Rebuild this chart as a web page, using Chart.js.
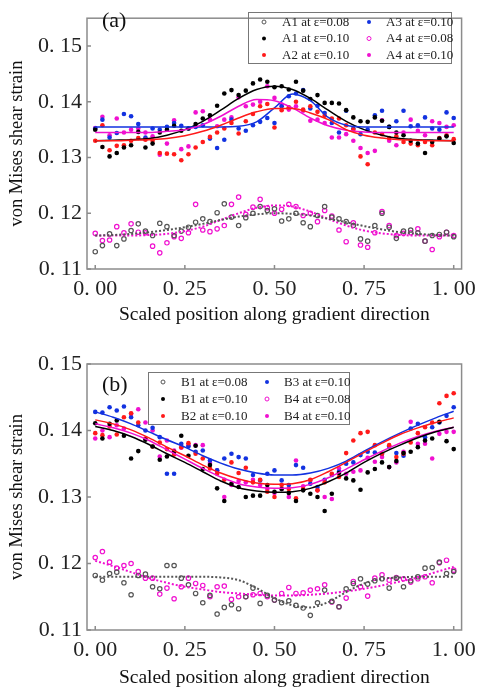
<!DOCTYPE html>
<html>
<head>
<meta charset="utf-8">
<script src="https://cdn.jsdelivr.net/npm/chart.js@4.4.1/dist/chart.umd.min.js"></script>
<style>
  html, body { margin: 0; padding: 0; background: #fff; }
  #wrapA { position: absolute; left: 0; top: 0; width: 483px; height: 345px; }
  #wrapB { position: absolute; left: 0; top: 345px; width: 483px; height: 348px; }
</style>
</head>
<body>
<div id="wrapA"><canvas id="chartA" width="483" height="345"></canvas></div>
<div id="wrapB"><canvas id="chartB" width="483" height="348"></canvas></div>
<script>
// positions along the gradient (scaled)
var xPos = [0.00, 0.02, 0.04, 0.06, 0.08, 0.10, 0.12, 0.14, 0.16, 0.18,
            0.20, 0.22, 0.24, 0.26, 0.28, 0.30, 0.32, 0.34, 0.36, 0.38,
            0.40, 0.42, 0.44, 0.46, 0.48, 0.50, 0.52, 0.54, 0.56, 0.58,
            0.60, 0.62, 0.64, 0.66, 0.68, 0.70, 0.72, 0.74, 0.76, 0.78,
            0.80, 0.82, 0.84, 0.86, 0.88, 0.90, 0.92, 0.94, 0.96, 0.98, 1.00];
var xFit = [0.00, 0.05, 0.10, 0.15, 0.20, 0.25, 0.30, 0.35, 0.40, 0.45, 0.50,
            0.55, 0.60, 0.65, 0.70, 0.75, 0.80, 0.85, 0.90, 0.95, 1.00];
var xTicks = [0, 0.25, 0.5, 0.75, 1];
var yTicks = [0.11, 0.12, 0.13, 0.14, 0.15];

// ---- panel (a) ----
var a1_008 = [0.1131, 0.1142, 0.1163, 0.1142, 0.1154, 0.1169, 0.1181, 0.1168, 0.1160, 0.1182,
              0.1176, 0.1160, 0.1168, 0.1175, 0.1184, 0.1190, 0.1185, 0.1201, 0.1217, 0.1193,
              0.1178, 0.1192, 0.1200, 0.1212, 0.1205, 0.1208, 0.1186, 0.1190, 0.1200, 0.1183,
              0.1176, 0.1196, 0.1212, 0.1193, 0.1190, 0.1185, 0.1178, 0.1154, 0.1150, 0.1178,
              0.1200, 0.1175, 0.1155, 0.1168, 0.1170, 0.1165, 0.1150, 0.1160, 0.1162, 0.1166, 0.1158];
var a1_010 = [0.1350, 0.1319, 0.1302, 0.1308, 0.1318, 0.1322, 0.1346, 0.1318, 0.1325, 0.1345,
              0.1350, 0.1357, 0.1348, 0.1352, 0.1360, 0.1370, 0.1376, 0.1393, 0.1415, 0.1421,
              0.1412, 0.1420, 0.1433, 0.1440, 0.1436, 0.1426, 0.1428, 0.1422, 0.1436, 0.1420,
              0.1405, 0.1412, 0.1398, 0.1398, 0.1397, 0.1385, 0.1372, 0.1365, 0.1364, 0.1372,
              0.1366, 0.1355, 0.1345, 0.1340, 0.1330, 0.1325, 0.1308, 0.1328, 0.1334, 0.1338, 0.1326];
var a2_010 = [0.1330, 0.1358, 0.1313, 0.1321, 0.1322, 0.1330, 0.1335, 0.1332, 0.1330, 0.1308,
              0.1307, 0.1306, 0.1295, 0.1306, 0.1318, 0.1328, 0.1337, 0.1345, 0.1352, 0.1362,
              0.1343, 0.1365, 0.1378, 0.1392, 0.1396, 0.1354, 0.1385, 0.1390, 0.1400, 0.1386,
              0.1392, 0.1382, 0.1375, 0.1370, 0.1370, 0.1358, 0.1350, 0.1302, 0.1288, 0.1345,
              0.1342, 0.1335, 0.1338, 0.1328, 0.1325, 0.1322, 0.1328, 0.1322, 0.1335, 0.1340, 0.1333];
var a3_010 = [0.1352, 0.1368, 0.1336, 0.1344, 0.1378, 0.1374, 0.1360, 0.1336, 0.1352, 0.1350,
              0.1355, 0.1362, 0.1357, 0.1352, 0.1355, 0.1358, 0.1334, 0.1317, 0.1332, 0.1368,
              0.1352, 0.1348, 0.1358, 0.1364, 0.1371, 0.1362, 0.1392, 0.1410, 0.1415, 0.1421,
              0.1388, 0.1393, 0.1380, 0.1362, 0.1345, 0.1384, 0.1352, 0.1342, 0.1350, 0.1376,
              0.1384, 0.1355, 0.1365, 0.1384, 0.1356, 0.1358, 0.1372, 0.1352, 0.1350, 0.1381, 0.1371];
var a4_008 = [0.1164, 0.1151, 0.1152, 0.1176, 0.1165, 0.1181, 0.1166, 0.1165, 0.1141, 0.1129,
              0.1147, 0.1158, 0.1155, 0.1165, 0.1216, 0.1170, 0.1167, 0.1172, 0.1178, 0.1216,
              0.1229, 0.1198, 0.1211, 0.1225, 0.1210, 0.1200, 0.1207, 0.1216, 0.1212, 0.1196,
              0.1200, 0.1185, 0.1205, 0.1195, 0.1170, 0.1149, 0.1183, 0.1143, 0.1139, 0.1165,
              0.1203, 0.1178, 0.1160, 0.1164, 0.1165, 0.1172, 0.1150, 0.1135, 0.1158, 0.1166, 0.1160];
var a4_010 = [0.1353, 0.1373, 0.1340, 0.1370, 0.1345, 0.1350, 0.1352, 0.1345, 0.1338, 0.1305,
              0.1325, 0.1367, 0.1315, 0.1320, 0.1381, 0.1383, 0.1368, 0.1356, 0.1368, 0.1372,
              0.1408, 0.1392, 0.1395, 0.1400, 0.1428, 0.1407, 0.1395, 0.1386, 0.1392, 0.1384,
              0.1366, 0.1368, 0.1362, 0.1336, 0.1336, 0.1342, 0.1330, 0.1317, 0.1308, 0.1312,
              0.1367, 0.1330, 0.1322, 0.1345, 0.1368, 0.1348, 0.1340, 0.1365, 0.1362, 0.1355, 0.1358];

// fitted curves (a), read at xFit
var a1_008Fit = [0.1160, 0.1161, 0.1163, 0.1166, 0.1170, 0.1175, 0.1181, 0.1188, 0.1194, 0.1198, 0.1200,
                 0.1199, 0.1196, 0.1190, 0.1184, 0.1177, 0.1171, 0.1166, 0.1163, 0.1161, 0.1160];
var a1_010Fit = [0.1330, 0.1331, 0.1332, 0.1334, 0.1340, 0.1350, 0.1365, 0.1385, 0.1406, 0.1422, 0.1428,
                 0.1422, 0.1406, 0.1385, 0.1365, 0.1350, 0.1340, 0.1334, 0.1332, 0.1331, 0.1330];
var a2_010Fit = [0.1330, 0.1330, 0.1331, 0.1332, 0.1334, 0.1339, 0.1347, 0.1358, 0.1371, 0.1382, 0.1388,
                 0.1388, 0.1380, 0.1368, 0.1350, 0.1340, 0.1335, 0.1332, 0.1331, 0.1330, 0.1330];
var a3_010Fit = [0.1355, 0.1355, 0.1355, 0.1355, 0.1355, 0.1355, 0.1355, 0.1355, 0.1356, 0.1364, 0.1389,
                 0.1414, 0.1402, 0.1372, 0.1358, 0.1355, 0.1355, 0.1355, 0.1355, 0.1355, 0.1355];
var a4_008Fit = [0.1160, 0.1160, 0.1160, 0.1161, 0.1163, 0.1168, 0.1176, 0.1188, 0.1200, 0.1210, 0.1214,
                 0.1212, 0.1203, 0.1190, 0.1178, 0.1169, 0.1164, 0.1161, 0.1160, 0.1160, 0.1160];
var a4_010Fit = [0.1345, 0.1345, 0.1345, 0.1345, 0.1347, 0.1350, 0.1359, 0.1374, 0.1392, 0.1404, 0.1402,
                 0.1389, 0.1371, 0.1357, 0.1349, 0.1346, 0.1345, 0.1345, 0.1345, 0.1345, 0.1345];

// ---- panel (b) ----
var b1_008 = [0.1182, 0.1175, 0.1185, 0.1187, 0.1171, 0.1153, 0.1182, 0.1184, 0.1165, 0.1162,
              0.1197, 0.1197, 0.1178, 0.1168, 0.1155, 0.1141, 0.1152, 0.1124, 0.1134, 0.1138,
              0.1132, 0.1150, 0.1163, 0.1140, 0.1152, 0.1145, 0.1141, 0.1144, 0.1137, 0.1133,
              0.1122, 0.1141, 0.1160, 0.1143, 0.1135, 0.1162, 0.1170, 0.1177, 0.1169, 0.1174,
              0.1177, 0.1163, 0.1178, 0.1165, 0.1174, 0.1180, 0.1193, 0.1194, 0.1202, 0.1185, 0.1188];
var b1_010 = [0.1411, 0.1388, 0.1410, 0.1415, 0.1392, 0.1358, 0.1369, 0.1386, 0.1376, 0.1356,
              0.1361, 0.1368, 0.1392, 0.1362, 0.1377, 0.1342, 0.1348, 0.1313, 0.1294, 0.1320,
              0.1315, 0.1300, 0.1302, 0.1302, 0.1318, 0.1308, 0.1312, 0.1306, 0.1294, 0.1310,
              0.1305, 0.1300, 0.1279, 0.1305, 0.1336, 0.1328, 0.1325, 0.1311, 0.1337, 0.1342,
              0.1352, 0.1345, 0.1354, 0.1366, 0.1368, 0.1375, 0.1385, 0.1388, 0.1413, 0.1384, 0.1372];
var b2_010 = [0.1396, 0.1393, 0.1406, 0.1394, 0.1420, 0.1426, 0.1412, 0.1388, 0.1376, 0.1382,
              0.1372, 0.1364, 0.1375, 0.1381, 0.1365, 0.1358, 0.1343, 0.1335, 0.1326, 0.1352,
              0.1336, 0.1344, 0.1322, 0.1326, 0.1308, 0.1300, 0.1318, 0.1312, 0.1298, 0.1312,
              0.1326, 0.1310, 0.1322, 0.1335, 0.1330, 0.1366, 0.1385, 0.1396, 0.1398, 0.1378,
              0.1365, 0.1378, 0.1360, 0.1365, 0.1382, 0.1396, 0.1405, 0.1412, 0.1441, 0.1452, 0.1456];
var b3_010 = [0.1428, 0.1427, 0.1435, 0.1430, 0.1436, 0.1420, 0.1408, 0.1400, 0.1404, 0.1390,
              0.1335, 0.1335, 0.1380, 0.1376, 0.1368, 0.1370, 0.1355, 0.1340, 0.1358, 0.1365,
              0.1360, 0.1358, 0.1333, 0.1325, 0.1335, 0.1340, 0.1325, 0.1318, 0.1348, 0.1344,
              0.1320, 0.1315, 0.1326, 0.1333, 0.1338, 0.1350, 0.1352, 0.1363, 0.1368, 0.1367,
              0.1365, 0.1376, 0.1366, 0.1362, 0.1403, 0.1410, 0.1390, 0.1405, 0.1412, 0.1422, 0.1435];
var b4_008 = [0.1209, 0.1218, 0.1202, 0.1193, 0.1197, 0.1200, 0.1188, 0.1178, 0.1178, 0.1154,
              0.1163, 0.1147, 0.1165, 0.1178, 0.1170, 0.1167, 0.1150, 0.1165, 0.1166, 0.1146,
              0.1150, 0.1150, 0.1153, 0.1155, 0.1150, 0.1145, 0.1155, 0.1164, 0.1155, 0.1156,
              0.1160, 0.1162, 0.1168, 0.1142, 0.1135, 0.1148, 0.1173, 0.1165, 0.1151, 0.1178,
              0.1183, 0.1175, 0.1179, 0.1177, 0.1172, 0.1177, 0.1180, 0.1171, 0.1201, 0.1205, 0.1190];
var b4_010 = [0.1388, 0.1400, 0.1390, 0.1408, 0.1403, 0.1425, 0.1432, 0.1412, 0.1400, 0.1361,
              0.1385, 0.1370, 0.1374, 0.1378, 0.1378, 0.1378, 0.1351, 0.1340, 0.1300, 0.1318,
              0.1324, 0.1322, 0.1326, 0.1318, 0.1312, 0.1306, 0.1312, 0.1300, 0.1355, 0.1316,
              0.1325, 0.1310, 0.1300, 0.1297, 0.1343, 0.1335, 0.1338, 0.1340, 0.1359, 0.1353,
              0.1360, 0.1345, 0.1352, 0.1368, 0.1413, 0.1380, 0.1380, 0.1358, 0.1395, 0.1398, 0.1398];

// fitted curves (b), read at xFit
var b1_008Fit = [0.1180, 0.1180, 0.1180, 0.1180, 0.1180, 0.1180, 0.1180, 0.1179, 0.1175, 0.1163, 0.1148,
                 0.1137, 0.1134, 0.1142, 0.1157, 0.1170, 0.1177, 0.1179, 0.1180, 0.1180, 0.1180];
var b1_010Fit = [0.1406, 0.1400, 0.1391, 0.1379, 0.1365, 0.1352, 0.1338, 0.1324, 0.1314, 0.1309, 0.1307,
                 0.1308, 0.1313, 0.1323, 0.1336, 0.1352, 0.1366, 0.1378, 0.1389, 0.1398, 0.1405];
var b2_010Fit = [0.1416, 0.1410, 0.1401, 0.1389, 0.1375, 0.1362, 0.1348, 0.1336, 0.1327, 0.1321, 0.1319,
                 0.1320, 0.1326, 0.1338, 0.1352, 0.1367, 0.1381, 0.1394, 0.1404, 0.1412, 0.1419];
var b3_010Fit = [0.1428, 0.1420, 0.1410, 0.1398, 0.1386, 0.1375, 0.1362, 0.1351, 0.1342, 0.1336, 0.1333,
                 0.1333, 0.1336, 0.1343, 0.1354, 0.1369, 0.1383, 0.1396, 0.1408, 0.1419, 0.1429];
var b4_008Fit = [0.1204, 0.1196, 0.1187, 0.1178, 0.1171, 0.1165, 0.1161, 0.1157, 0.1155, 0.1153, 0.1152,
                 0.1152, 0.1153, 0.1155, 0.1158, 0.1162, 0.1167, 0.1173, 0.1179, 0.1187, 0.1195];
var b4_010Fit = [0.1410, 0.1404, 0.1396, 0.1385, 0.1371, 0.1357, 0.1343, 0.1330, 0.1320, 0.1315, 0.1313,
                 0.1314, 0.1319, 0.1329, 0.1342, 0.1356, 0.1369, 0.1381, 0.1391, 0.1399, 0.1405];

var BLACK = '#000000', RED = '#ff1a1a', BLUE = '#1232e0', MAGENTA = '#f010d0', GRAY = '#555555';
var SERIF = '"Liberation Serif", "Times New Roman", serif';

Chart.defaults.font.family = SERIF;
Chart.defaults.color = '#222';

function pair(xs, ys) {
    return xs.map(function (x, i) { return { x: x, y: ys[i] }; });
}

function dots(label, ys, color, hollow) {
    return {
        type: 'scatter',
        label: label,
        data: pair(xPos, ys),
        backgroundColor: hollow ? 'rgba(0,0,0,0)' : color,
        borderColor: color,
        borderWidth: hollow ? 1.2 : 0,
        pointRadius: hollow ? 2.2 : 2.3,
        hollow: hollow,
        order: 1
    };
}

function fit(ys, color, dotted) {
    return {
        type: 'line',
        data: pair(xFit, ys),
        borderColor: color,
        borderWidth: dotted ? 2 : 1.5,
        borderDash: dotted ? [2, 2] : [],
        pointRadius: 0,
        cubicInterpolationMode: 'monotone',
        fill: false,
        order: 0
    };
}

// frame, inward ticks, panel tag and the boxed two-column legend
function decorPlugin(cfg) {
    return {
        id: 'decor',
        afterDatasetsDraw: function (chart) {
            var ctx = chart.ctx, a = chart.chartArea;
            var sx = chart.scales.x, sy = chart.scales.y;
            ctx.save();
            ctx.strokeStyle = '#8c8c8c';
            ctx.lineWidth = 1.5;
            ctx.strokeRect(a.left, a.top, a.right - a.left, a.bottom - a.top);
            ctx.beginPath();
            xTicks.forEach(function (v) {
                var px = sx.getPixelForValue(v);
                ctx.moveTo(px, a.bottom); ctx.lineTo(px, a.bottom - 4);
            });
            yTicks.forEach(function (v) {
                var py = sy.getPixelForValue(v);
                ctx.moveTo(a.left, py); ctx.lineTo(a.left + 4, py);
            });
            ctx.stroke();

            ctx.fillStyle = '#111';
            ctx.font = '22px ' + SERIF;
            ctx.textBaseline = 'middle';
            ctx.textAlign = 'left';
            ctx.fillText(cfg.tag, cfg.tagX, cfg.tagY);

            var b = cfg.box;
            ctx.strokeStyle = '#777';
            ctx.lineWidth = 1;
            ctx.strokeRect(b[0] + 0.5, b[1] + 0.5, b[2] - b[0], b[3] - b[1]);
            ctx.font = '13px ' + SERIF;
            var k = 0;
            chart.data.datasets.forEach(function (ds) {
                if (!ds.label) return;
                var col = Math.floor(k / 3), row = k % 3;
                var mx = cfg.markX[col], tx = cfg.textX[col], y = cfg.rowY[row];
                ctx.beginPath();
                ctx.arc(mx, y, 2, 0, Math.PI * 2);
                if (ds.hollow) {
                    ctx.strokeStyle = ds.borderColor; ctx.lineWidth = 1; ctx.stroke();
                } else {
                    ctx.fillStyle = ds.backgroundColor; ctx.fill();
                }
                ctx.fillStyle = '#222';
                ctx.fillText(ds.label, tx, y + 0.5);
                k++;
            });
            ctx.restore();
        }
    };
}

function makeOptions(p) {
    return {
        responsive: false,
        animation: false,
        events: [],
        layout: { padding: { top: p.padTop, right: 14, left: 0, bottom: 0 } },
        plugins: { legend: { display: false }, tooltip: { enabled: false } },
        scales: {
            x: {
                type: 'linear',
                min: -0.023, max: 1.022,
                grid: { display: false, drawTicks: false },
                border: { display: false },
                afterBuildTicks: function (s) { s.ticks = xTicks.map(function (v) { return { value: v }; }); },
                afterFit: function (s) { s.height = p.xHeight; },
                ticks: {
                    padding: 7, autoSkip: false, maxRotation: 0,
                    font: { size: 22 }, color: '#222',
                    callback: function (v) { return v.toFixed(2).replace('.', '. '); }
                },
                title: {
                    display: true, text: 'Scaled position along gradient direction',
                    font: { size: 19.5 }, color: '#111',
                    padding: { top: 0, bottom: p.titlePad }
                }
            },
            y: {
                type: 'linear',
                min: 0.11, max: p.yMax,
                grid: { display: false, drawTicks: false },
                border: { display: false },
                afterBuildTicks: function (s) { s.ticks = yTicks.map(function (v) { return { value: v }; }); },
                afterFit: function (s) { s.width = 87; },
                ticks: {
                    padding: 5, autoSkip: false,
                    font: { size: 22 }, color: '#222',
                    callback: function (v) { return v.toFixed(2).replace('.', '. '); }
                },
                title: {
                    display: true, text: 'von Mises shear strain',
                    font: { size: 18.5 }, color: '#111',
                    padding: { top: 6, bottom: 0 }
                }
            }
        }
    };
}

var chartA = new Chart(document.getElementById('chartA'), {
    type: 'scatter',
    data: {
        datasets: [
            dots('A1 at ε=0.08', a1_008, GRAY, true),
            dots('A1 at ε=0.10', a1_010, BLACK, false),
            dots('A2 at ε=0.10', a2_010, RED, false),
            dots('A3 at ε=0.10', a3_010, BLUE, false),
            dots('A4 at ε=0.08', a4_008, MAGENTA, true),
            dots('A4 at ε=0.10', a4_010, MAGENTA, false),
            fit(a1_008Fit, GRAY, true),
            fit(a4_008Fit, MAGENTA, true),
            fit(a2_010Fit, RED, false),
            fit(a4_010Fit, MAGENTA, false),
            fit(a3_010Fit, BLUE, false),
            fit(a1_010Fit, BLACK, false)
        ]
    },
    options: makeOptions({ padTop: 4, xHeight: 76, titlePad: 18, yMax: 0.155 }),
    plugins: [decorPlugin({
        tag: '(a)', tagX: 102, tagY: 21,
        box: [248, 12, 451, 63],
        markX: [264, 369], textX: [282, 386], rowY: [22, 38.5, 55]
    })]
});

var chartB = new Chart(document.getElementById('chartB'), {
    type: 'scatter',
    data: {
        datasets: [
            dots('B1 at ε=0.08', b1_008, GRAY, true),
            dots('B1 at ε=0.10', b1_010, BLACK, false),
            dots('B2 at ε=0.10', b2_010, RED, false),
            dots('B3 at ε=0.10', b3_010, BLUE, false),
            dots('B4 at ε=0.08', b4_008, MAGENTA, true),
            dots('B4 at ε=0.10', b4_010, MAGENTA, false),
            fit(b1_008Fit, GRAY, true),
            fit(b4_008Fit, MAGENTA, true),
            fit(b1_010Fit, BLACK, false),
            fit(b4_010Fit, MAGENTA, false),
            fit(b2_010Fit, RED, false),
            fit(b3_010Fit, BLUE, false)
        ]
    },
    options: makeOptions({ padTop: 19, xHeight: 63, titlePad: 3, yMax: 0.15 }),
    plugins: [decorPlugin({
        tag: '(b)', tagX: 102, tagY: 40,
        box: [148, 27, 349, 79],
        markX: [163, 267], textX: [181, 284], rowY: [37, 54, 71]
    })]
});
</script>
</body>
</html>
